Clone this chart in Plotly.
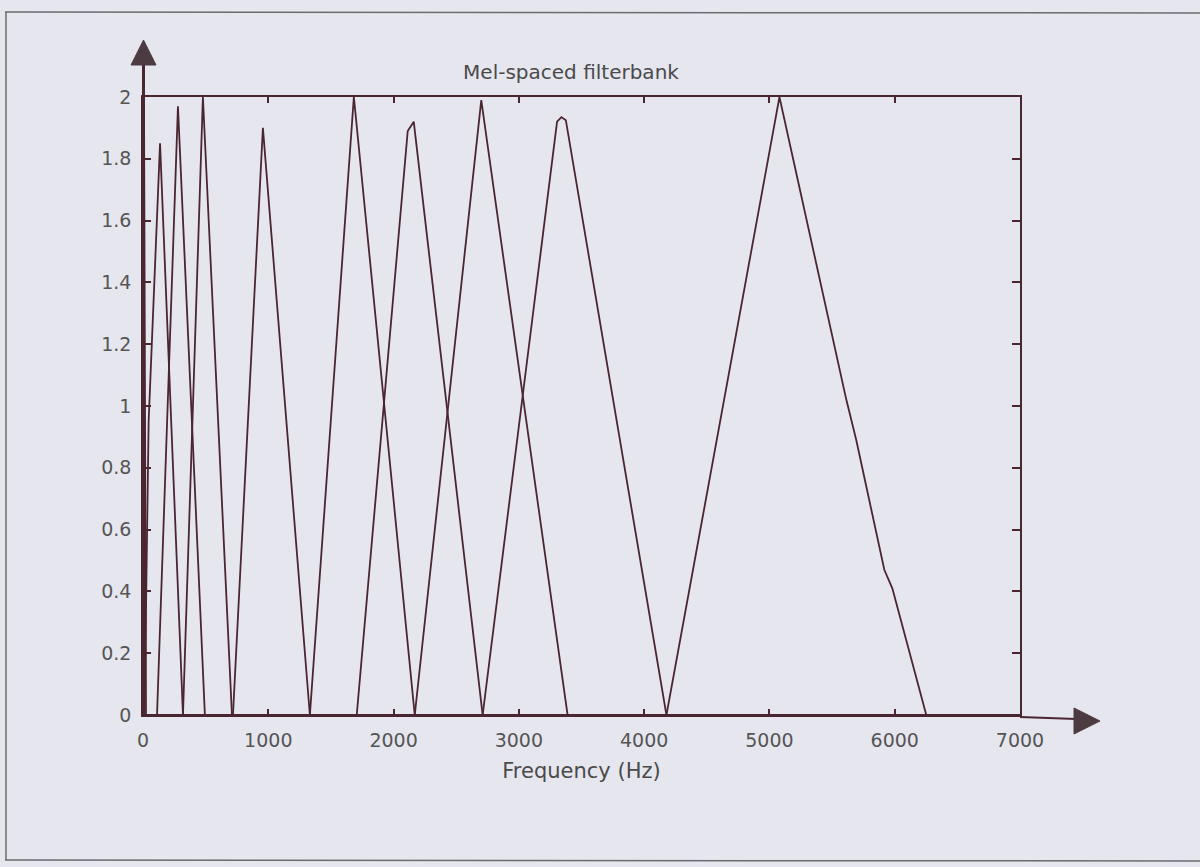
import plotly.graph_objects as go

# ---- data (Hz / filter gain) ----
filter_left_hz = [0, 12, 112, 319, 718, 1332, 1706, 2169, 2711, 4178]
filter_peak_hz = [8, 136, 279, 478, 957, 1683, 2161, 2700, 3340, 5080]
filter_peak_gain = [2.0, 1.85, 1.97, 2.0, 1.90, 2.0, 1.92, 1.99, 1.935, 2.0]
filter_right_hz = [24, 319, 494, 710, 1332, 2169, 2711, 3389, 4178, 6252]

# extra breakpoints (knees) of some filters
knee_filter = [1, 6, 8, 8, 9, 9, 9, 9]
knee_hz = [45, 2113, 3305, 3375, 5614, 5693, 5917, 5981]
knee_gain = [0.95, 1.89, 1.92, 1.925, 1.02, 0.89, 0.47, 0.41]

baseline_hz = [0, 7000]
baseline_gain = [0, 0]

x_ticks = [0, 1000, 2000, 3000, 4000, 5000, 6000, 7000]
y_ticks = [0, 0.2, 0.4, 0.6, 0.8, 1, 1.2, 1.4, 1.6, 1.8, 2]

LINE = "#4a2631"
BG = "#e6e6ef"
FONT = "DejaVu Sans"
W, H = 1200, 867

fig = go.Figure()

fig.add_trace(go.Scatter(x=baseline_hz, y=baseline_gain, mode="lines",
                         line=dict(color=LINE, width=2.2), showlegend=False))

for i in range(len(filter_peak_hz)):
    pts = [(filter_left_hz[i], 0.0), (filter_peak_hz[i], filter_peak_gain[i]),
           (filter_right_hz[i], 0.0)]
    for k, f in enumerate(knee_filter):
        if f == i:
            pts.append((knee_hz[k], knee_gain[k]))
    pts.sort(key=lambda p: p[0])
    fig.add_trace(go.Scatter(x=[p[0] for p in pts], y=[p[1] for p in pts],
                             mode="lines", line=dict(color=LINE, width=1.8),
                             showlegend=False))

# ---- pixel geometry helpers for decorations ----
PL, PR, PT, PB = 143, 1020, 97, 715


def px(x):
    return (x - PL) / (PR - PL)


def py(y):
    return (PB - y) / (PB - PT)


shapes = []
frame = dict(type="line", xref="paper", yref="paper",
             line=dict(color="#6b6b72", width=1.5))
shapes.append(dict(frame, x0=px(6), y0=py(12), x1=px(6), y1=py(860)))
shapes.append(dict(frame, x0=px(5), y0=py(12), x1=px(1200), y1=py(13)))
shapes.append(dict(frame, x0=px(5), y0=py(860), x1=px(1200), y1=py(861)))

# y axis shaft + arrow
shapes.append(dict(type="line", xref="paper", yref="paper",
                   x0=px(143.5), y0=py(716), x1=px(143.5), y1=py(62),
                   line=dict(color=LINE, width=3)))
shapes.append(dict(type="path", xref="paper", yref="paper",
                   path=f"M {px(131)},{py(65)} L {px(143.5)},{py(40)} L {px(156)},{py(65)} Z",
                   fillcolor="#4d3b42", line=dict(color="#4d3b42", width=1)))
# x axis extension + arrow
shapes.append(dict(type="line", xref="paper", yref="paper",
                   x0=px(1020), y0=py(717), x1=px(1076), y1=py(719),
                   line=dict(color=LINE, width=2)))
shapes.append(dict(type="path", xref="paper", yref="paper",
                   path=f"M {px(1074)},{py(708)} L {px(1100)},{py(721)} L {px(1074)},{py(734)} Z",
                   fillcolor="#4d3b42", line=dict(color="#4d3b42", width=1)))

axis_common = dict(
    showgrid=False, zeroline=False, showline=True, linecolor=LINE,
    linewidth=1.5, mirror="ticks", ticks="inside", tickcolor=LINE,
    tickwidth=1.5, tickfont=dict(family=FONT, size=19, color="#555555"),
)

fig.update_layout(
    width=W, height=H,
    margin=dict(l=PL, r=W - PR, t=PT, b=H - PB, autoexpand=False),
    paper_bgcolor=BG, plot_bgcolor=BG,
    title=dict(text="Mel-spaced filterbank", x=571 / W, xref="container",
               y=1 - 72 / H, yref="container", xanchor="center",
               yanchor="middle",
               font=dict(family=FONT, size=20, color="#4a4a4a")),
    xaxis=dict(axis_common, range=[0, 7000], tickvals=x_ticks, ticklen=6,
               ticklabelstandoff=7,
               title=dict(text="Frequency (Hz)", standoff=14,
                          font=dict(family=FONT, size=21, color="#4a4a4a"))),
    yaxis=dict(axis_common, range=[0, 2], tickvals=y_ticks, ticklen=8,
               ticklabelstandoff=6),
    shapes=shapes,
    showlegend=False,
)

fig.write_html("out.html")
